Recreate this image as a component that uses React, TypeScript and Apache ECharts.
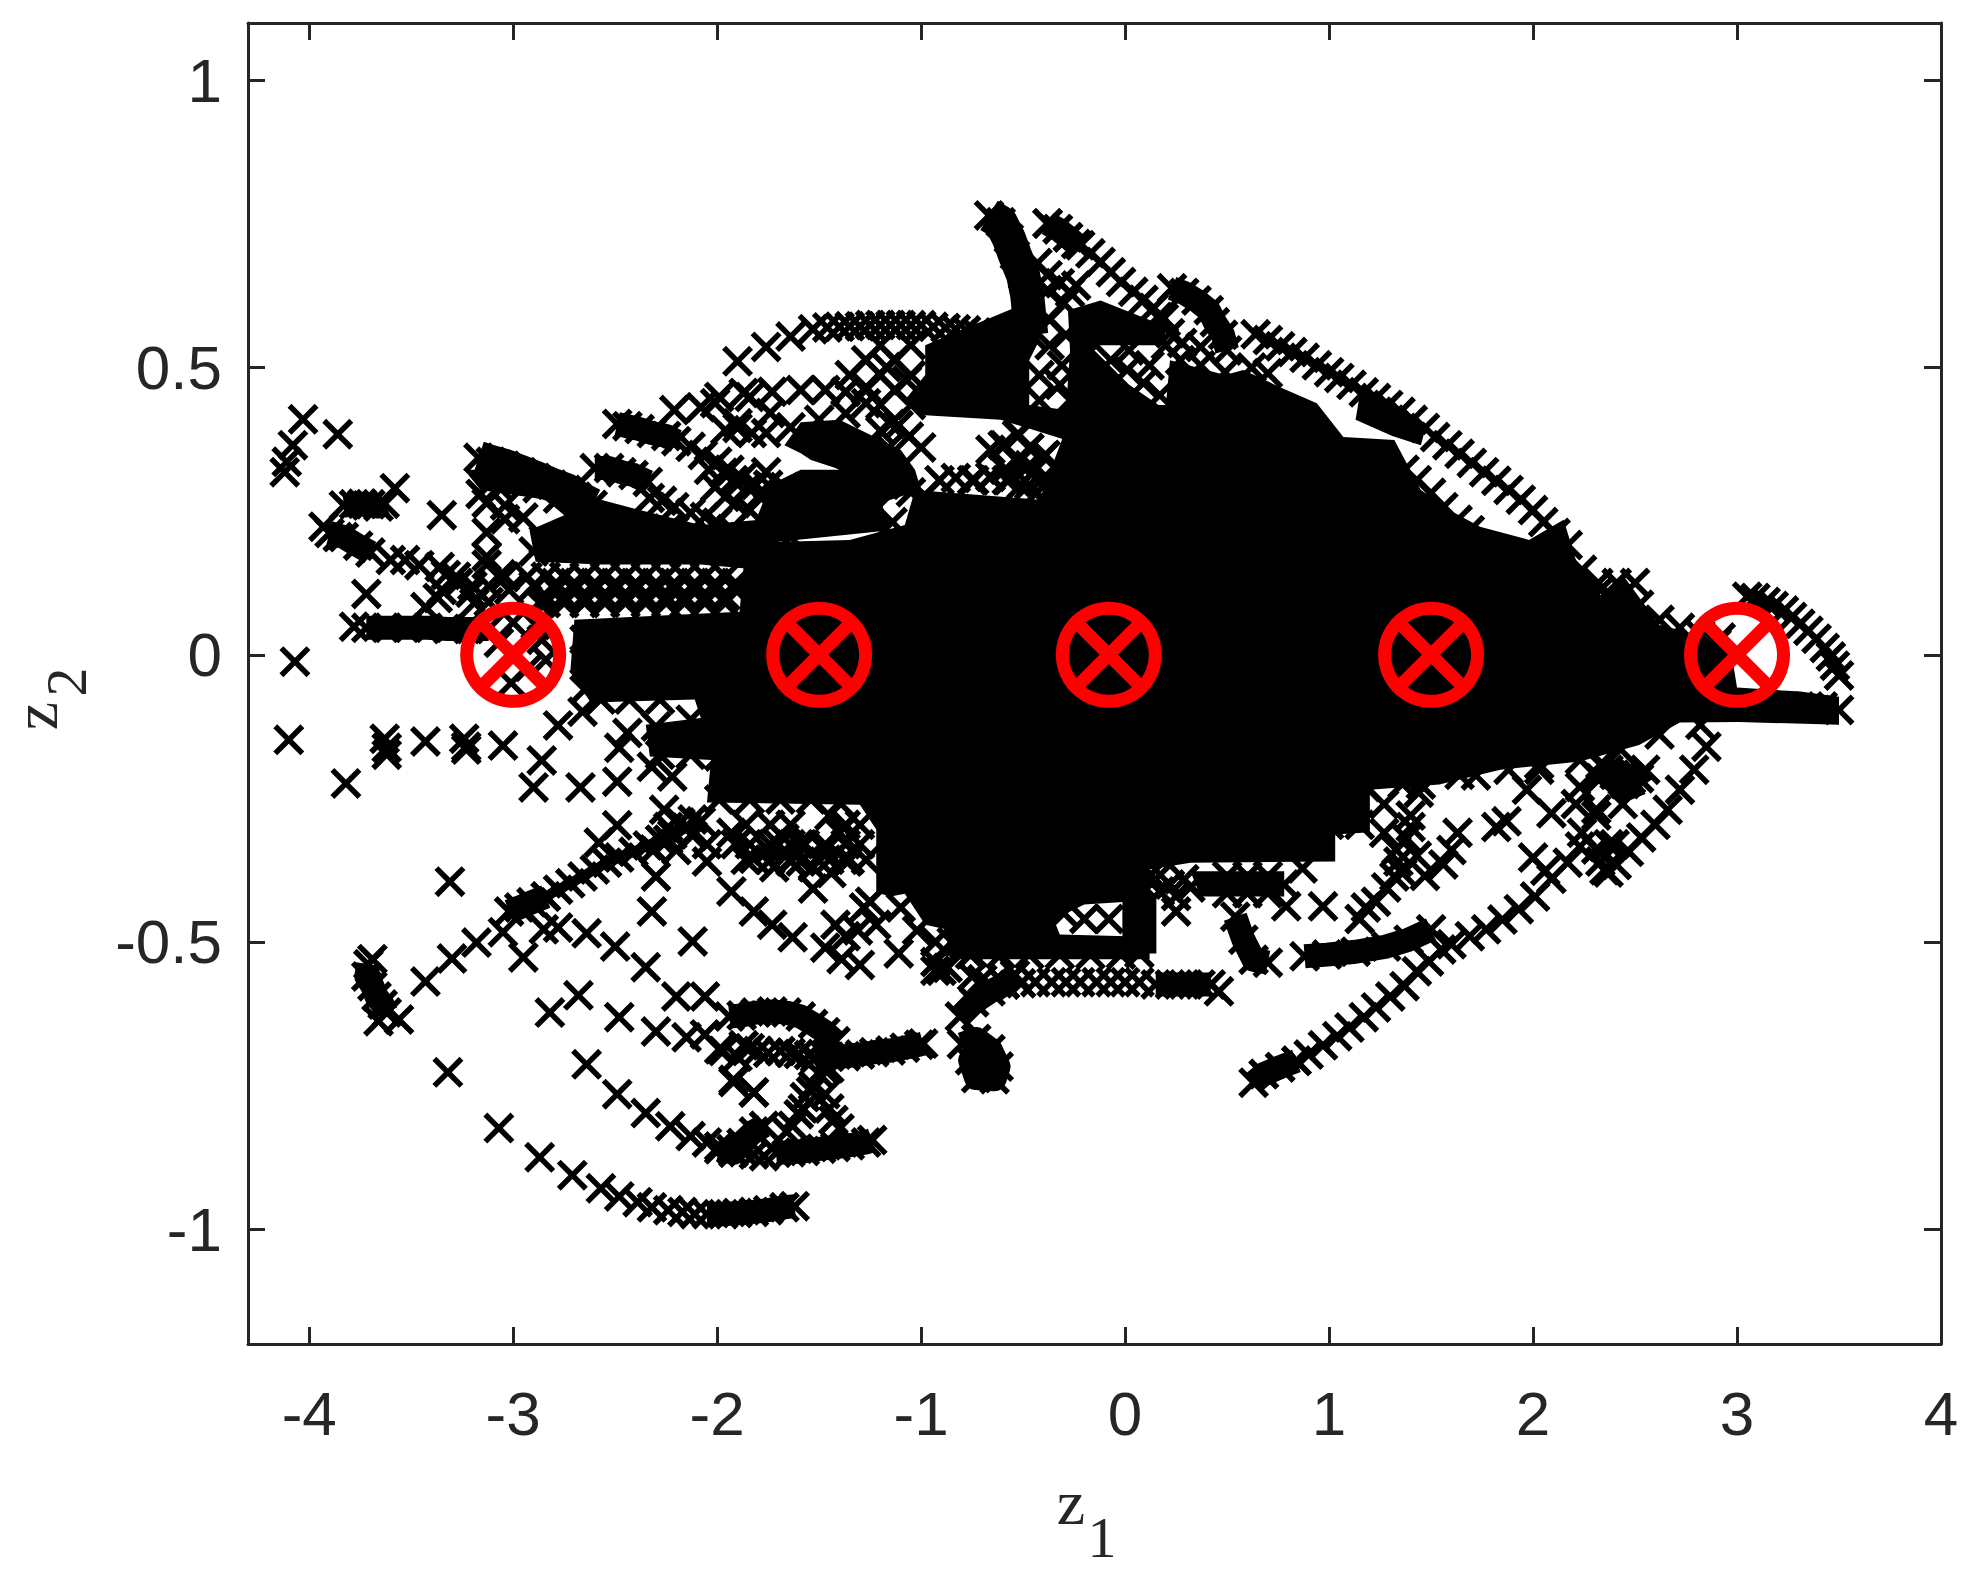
import React, { useEffect, useRef } from "react";
import * as echarts from "echarts";

const xTicks = [-4, -3, -2, -1, 0, 1, 2, 3, 4];
const yTicks = [-1, -0.5, 0, 0.5, 1];
const centers = [[-3, 0], [-1.5, 0], [-0.08, 0], [1.5, 0], [3, 0]];

// Regions where the crosses overlap so much that they read as solid black
const coreMain = [[-2.7,.061],[-1.89,.075],[-1.86,.195],[-1.35,.2],[-1.08,.226],[-1.03,.287],[-.42,.27],[-.31,.374],[-.31,.435],[.2,.435],[.22,.513],[.49,.487],[.58,.496],[.76,.466],[.94,.438],[1.07,.379],[1.32,.374],[1.45,.287],[1.59,.252],[1.74,.223],[1.98,.2],[2.15,.235],[2.21,.165],[2.33,.104],[2.45,.134],[2.62,.052],[2.75,.04],[2.97,.009],[3.0,-.057],[3.31,-.064],[3.5,-.073],[3.5,-.122],[3.01,-.117],[2.72,-.118],[2.52,-.157],[2.23,-.186],[1.84,-.2],[1.54,-.226],[1.2,-.235],[1.2,-.309],[1.03,-.313],[1.03,-.36],[.32,-.362],[.12,-.374],[.12,-.43],[.01,-.43],[-.2,-.435],[-.35,-.461],[-.32,-.487],[.01,-.49],[.12,-.49],[.12,-.53],[-.86,-.53],[-.88,-.478],[-.98,-.47],[-1.08,-.416],[-1.15,-.421],[-1.22,-.414],[-1.22,-.304],[-1.3,-.261],[-2.05,-.257],[-2.03,-.183],[-2.33,-.177],[-2.35,-.122],[-2.08,-.11],[-2.11,-.078],[-2.62,-.083],[-2.72,-.03]];
const coreUpperLeft = [[-3.24,.322],[-2.97,.322],[-2.77,.292],[-2.57,.27],[-2.38,.252],[-2.08,.226],[-1.79,.235],[-1.79,.148],[-2.08,.157],[-2.57,.157],[-2.89,.162],[-2.92,.217],[-2.75,.243],[-2.84,.27],[-3.16,.287]];
const coreFinger = [[-1.67,.365],[-1.59,.405],[-1.4,.409],[-1.25,.383],[-1.1,.357],[-1.03,.322],[-1,.287],[-1.23,.261],[-1.3,.304],[-1.42,.325],[-1.54,.339],[-1.59,.351]];
const coreUnderFinger = [[-1.74,.296],[-1.59,.322],[-1.35,.322],[-1.2,.27],[-1.15,.217],[-1.86,.191]];
const corePeakLeft = [[-.98,.539],[-.86,.557],[-.55,.603],[-.44,.617],[-.42,.548],[-.47,.513],[-.47,.435],[-.29,.426],[-.29,.374],[-.61,.409],[-.98,.417],[-1.08,.443],[-.98,.487]];
const corePeakRight = [[-.28,.6],[-.12,.617],[.12,.583],[.2,.565],[.19,.539],[-.12,.539],[-.15,.53],[.02,.47],[.2,.426],[-.29,.426],[-.27,.53]];
const coreWedge = [[1.13,.409],[1.31,.381],[1.45,.365],[1.47,.391],[1.35,.426],[1.15,.452]];
const coreStrip = [[.32,-.377],[.78,-.377],[.78,-.421],[.37,-.421]];

// Tracks of closely spaced crosses
const bandFarBottom = [[-2.05,-.974],[-1.97,-.974],[-1.9,-.972],[-1.82,-.97],[-1.75,-.967],[-1.67,-.962],[-1.62,-.96]];
const bandLower = [[-1.71,-.867],[-1.64,-.866],[-1.57,-.864],[-1.49,-.86],[-1.42,-.857],[-1.35,-.854],[-1.27,-.849],[-1.24,-.845]];
const bandMid = [[-1.52,-.702],[-1.45,-.7],[-1.37,-.699],[-1.3,-.696],[-1.23,-.692],[-1.15,-.689],[-1.08,-.684],[-1.01,-.679],[-.99,-.677]];
const bandArc = [[-1.94,-.63],[-1.88,-.628],[-1.81,-.623],[-1.73,-.621],[-1.66,-.623],[-1.59,-.63],[-1.53,-.643],[-1.47,-.657],[-1.42,-.673]];
const bandPost = [[-3.72,.047],[-3.62,.047],[-3.52,.047],[-3.42,.047],[-3.32,.045],[-3.22,.045],[-3.12,.045]];
const bandLeftUp = [[-3.83,.26],[-3.78,.262],[-3.74,.263],[-3.7,.262],[-3.66,.258],[-3.63,.263]];
const bandLeftMid = [[-3.9,.212],[-3.83,.205],[-3.76,.19],[-3.7,.178]];
const bandTopLeft = [[-3.17,.343],[-3.11,.336],[-3.04,.329],[-2.96,.318],[-2.89,.308],[-2.81,.296],[-2.74,.287],[-2.69,.275],[-2.61,.261]];
const bandSecond = [[-2.6,.325],[-2.53,.325],[-2.47,.318],[-2.41,.313],[-2.34,.301]];
const bandThird = [[-2.49,.402],[-2.44,.398],[-2.38,.393],[-2.32,.386],[-2.25,.381],[-2.2,.372]];
const bandDiagHead = [[-3.02,-.447],[-2.97,-.44],[-2.91,-.431],[-2.84,-.421]];
const bandDiagBody = [[-2.84,-.421],[-2.78,-.409],[-2.72,-.398],[-2.66,-.386],[-2.6,-.374],[-2.54,-.362],[-2.48,-.353],[-2.41,-.343],[-2.34,-.332],[-2.28,-.322],[-2.22,-.313],[-2.15,-.301],[-2.08,-.29]];
const bandPeakA = [[-.667,.765],[-.61,.753],[-.57,.725],[-.54,.696],[-.5,.661],[-.48,.626],[-.47,.591],[-.46,.557]];
const bandPeakB = [[.23,.638],[.29,.63],[.35,.617],[.41,.6],[.44,.579],[.48,.557],[.5,.53]];
const bandPeakC = [[-.38,.751],[-.33,.741],[-.28,.727],[-.24,.715]];
const bandLowLeft = [[-1.99,-.861],[-1.92,-.867],[-1.88,-.85],[-1.82,-.83],[-1.77,-.82]];
const bandUpRight = [[-.81,-.63],[-.74,-.605],[-.66,-.586],[-.59,-.574],[-.54,-.557]];
const bandBlob = [[-.8,-.678],[-.73,-.669],[-.66,-.687],[-.62,-.717],[-.64,-.739],[-.73,-.737],[-.76,-.706],[-.7,-.697]];
const bandHatchEnd = [[.15,-.574],[.22,-.574],[.29,-.574],[.37,-.574],[.42,-.574]];
const bandFinger = [[.54,-.456],[.58,-.496],[.63,-.531],[.7,-.536]];
const bandRightLower = [[.88,-.525],[.99,-.522],[1.13,-.517],[1.28,-.508],[1.39,-.496],[1.5,-.478]];
const bandLowerArcHead = [[.63,-.745],[.68,-.73],[.76,-.718],[.84,-.707]];
const bandBlobLeft = [[-3.71,-.539],[-3.72,-.56],[-3.69,-.577],[-3.67,-.595],[-3.64,-.609],[-3.62,-.623]];
const bandLumpRight = [[2.33,-.191],[2.4,-.209],[2.48,-.217],[2.55,-.2]];
const bandLumpLower = [[2.37,-.2],[2.45,-.225],[2.52,-.215]];
const bandNotch = [[.07,-.42],[.07,-.52]];

const sparseLeft = [[-4.03,.41],[-3.86,.384],[-4.08,.365],[-4.11,.336],[-4.12,.318],[-3.58,.29],[-3.35,.243],[-3.93,.223],[-3.72,.106],[-3.78,.049],[-4.07,-.012],[-4.1,-.148],[-3.63,-.146],[-3.62,-.162],[-3.62,-.174],[-3.43,-.151],[-3.24,-.146],[-3.23,-.16],[-3.23,-.165],[-3.05,-.158],[-3.82,-.224],[-2.86,-.184],[-2.9,-.231],[-2.67,-.231],[-2.49,-.221],[-2.78,-.123],[-2.66,-.099],[-2.44,-.136],[-2.48,-.162],[-2.32,-.195],[-2.22,-.212],[-2.49,-.297],[-2.58,-.327],[-2.26,-.27],[-2.18,-.292],[-2.12,-.287],[-2.24,-.322],[-2.31,-.339],[-2.05,-.36],[-2.3,-.386],[-2.32,-.447],[-2.12,-.499],[-1.93,-.412],[-1.82,-.447],[-1.73,-.47],[-1.63,-.492],[-1.53,-.407],[-2.64,-.485],[-2.78,-.475],[-2.85,-.478],[-2.95,-.527],[-3.05,-.483],[-3.18,-.501],[-3.3,-.529],[-3.43,-.569],[-2.5,-.508],[-2.35,-.544],[-2.2,-.595],[-2.06,-.595],[-2.68,-.593],[-2.82,-.623],[-2.48,-.631],[-2.3,-.656],[-2.15,-.666],[-2.06,-.661],[-1.99,-.687],[-1.92,-.744],[-1.82,-.762],[-2.64,-.713],[-3.32,-.727],[-3.31,-.395],[-3.56,-.635],[-3.66,-.638],[-3.69,-.53]];
const bottomArc = [[-3.07,-.824],[-2.87,-.875],[-2.71,-.906],[-2.57,-.929],[-2.48,-.943],[-2.39,-.953],[-2.32,-.962],[-2.24,-.967],[-2.17,-.97],[-2.11,-.974]];
const middleArc = [[-2.49,-.765],[-2.35,-.798],[-2.23,-.821],[-2.13,-.838],[-2.05,-.849],[-1.99,-.856],[-1.93,-.861],[-1.87,-.866],[-1.82,-.87],[-1.77,-.873]];
const leftFringe = [[-3.86,.205],[-3.6,.165],[-3.53,.165],[-3.46,.156],[-3.36,.153],[-3.28,.136],[-3.2,.12],[-3.12,.12],[-3.06,.14],[-3.13,.157],[-3.13,.213],[-3.04,.236],[-2.95,.239],[-3.04,.26],[-3.13,.264],[-3.33,.139],[-3.35,.113],[-3.27,.125],[-3.21,.108],[-3.12,.092],[-3.04,.136],[-2.93,.136],[-3.02,.113],[-3.43,.083],[-3.37,.099],[-3.13,.171],[-3.19,.09],[-2.9,.12],[-2.87,.09],[-3.16,.28],[-3.07,.292],[-2.88,.29],[-2.78,.272],[-2.9,.18],[-2.85,.2]];
const hatchRowA = [[-2.84,.136],[-2.75,.136],[-2.65,.136],[-2.55,.136],[-2.45,.136],[-2.35,.136],[-2.25,.136],[-2.16,.136],[-2.06,.136],[-1.96,.136]];
const hatchRowB = [[-2.79,.113],[-2.7,.113],[-2.6,.113],[-2.5,.113],[-2.4,.113],[-2.3,.113],[-2.21,.113],[-2.11,.113],[-2.01,.113],[-1.91,.113]];
const hatchRowC = [[-2.84,.09],[-2.75,.09],[-2.65,.09],[-2.55,.09],[-2.45,.09],[-2.35,.09],[-2.25,.09],[-2.16,.09],[-2.06,.09],[-1.96,.09]];
const hatchRowD = [[-2.79,.125],[-2.7,.125],[-2.6,.125],[-2.5,.125],[-2.4,.125],[-2.3,.125],[-2.21,.125],[-2.11,.125],[-2.01,.125],[-1.91,.125]];
const hatchRowE = [[-2.84,.102],[-2.75,.102],[-2.65,.102],[-2.55,.102],[-2.45,.102],[-2.35,.102],[-2.25,.102],[-2.16,.102],[-2.06,.102],[-1.96,.102]];
const insideFirstCircle = [[-3.07,.021],[-3,.056],[-2.92,-.021],[-3.01,-.049],[-2.86,.026],[-2.84,-.009],[-2.89,.052]];
const secondComb = [[-2.33,.273],[-2.27,.268],[-2.21,.257],[-2.13,.247],[-2.06,.24],[-2,.23],[-1.93,.219],[-1.87,.205],[-2.38,.2],[-2.32,.19],[-2.24,.22]];
const thirdComb = [[-2.13,.362],[-2.07,.348],[-2,.336],[-1.94,.322],[-1.88,.308],[-1.81,.296],[-1.75,.296],[-1.79,.278]];
const upperScatter = [[-2.21,.426],[-2.01,.438],[-1.84,.449],[-1.96,.391],[-1.83,.386],[-2.08,.431],[-1.74,.421],[-1.9,.403],[-1.9,.511],[-1.76,.536],[-1.64,.554],[-1.53,.567],[-1.46,.57],[-1.4,.571],[-1.35,.572],[-1.3,.572],[-1.25,.574],[-1.2,.574],[-1.15,.574],[-1.1,.574],[-1.05,.574],[-1,.574],[-.94,.571],[-.88,.569],[-.83,.567],[-.78,.565],[-.73,.561],[-.69,.557]];
const rowUnderTop = [[-1.87,.456],[-1.73,.458],[-1.59,.461],[-1.47,.461],[-1.37,.458],[-1.27,.466],[-1.17,.501],[-1.07,.478],[-1.99,.449],[-1.9,.395],[-1.76,.386],[-1.64,.396],[-1.5,.409],[-1.37,.42],[-1.27,.438],[-1.15,.402],[-1.06,.38],[-1.0,.361],[-1.11,.4],[-1.2,.39]];
const midHatch = [[-2.04,.322],[-1.97,.317],[-1.92,.304],[-1.85,.292],[-1.79,.275],[-2.01,.292],[-1.96,.275],[-1.91,.264],[-1.84,.252],[-1.76,.318],[-1.67,.292],[-1.6,.28],[-1.52,.27],[-1.28,.28],[-1.18,.296],[-1.05,.283],[-.98,.277],[-1.31,.25],[-1.23,.25],[-1.14,.231],[-1.76,.223],[-1.64,.205],[-.74,.304],[-.66,.31],[-.57,.304],[-.6,.365],[-.53,.383],[-.47,.36],[-.53,.337],[-.47,.33],[-.42,.301],[-.51,.296],[-.4,.345],[-.44,.28]];
const gapFill = [[-1.2,.539],[-1.13,.513],[-1.2,.487],[-1.05,.539],[-1.05,.487],[-1.13,.461],[-1.2,.435],[-1.05,.435],[-1.27,.513],[-1.27,.461],[-1.35,.487],[-.59,.365],[-.52,.383],[-.47,.36],[-.52,.336],[-.59,.322],[-.44,.322],[-.39,.348],[-.37,.304],[-.47,.296],[-.66,.357],[-.37,.583],[-.29,.557],[-.37,.539],[-.42,.487],[-.32,.47],[-.31,.504],[-.42,.443],[-.91,.304],[-.83,.308],[-.75,.304],[-.66,.31],[-.58,.304],[-1.16,.36]];
const coreFringe = [[-1.99,-.252],[-1.84,-.252],[-1.69,-.252],[-1.54,-.252],[-1.4,-.257],[-2.28,-.174],[-2.13,-.174],[-1.99,-.177],[-1.86,-.177],[-2.3,-.125],[-2.13,-.113],[-2.57,-.078],[-2.43,-.078],[-2.28,-.078],[-2.65,-.061],[-2.65,.026],[-2.65,-.009],[-.76,-.522],[-.61,-.522],[-.47,-.522],[-.32,-.522],[-.17,-.522],[-.02,-.522],[-.27,.443],[-.15,.435],[.27,.513],[.37,.504],[.49,.492],[1.15,-.296],[1.0,-.296],[1.45,-.226],[1.64,-.209],[2.03,-.191],[2.23,-.183],[2.43,-.165],[2.62,-.139],[2.82,-.122],[2.33,.113],[2.52,.087],[2.62,.061],[2.72,.047],[2.82,.035],[3.5,-.096],[3.42,-.09],[3.35,-.09],[3.2,-.09],[.15,-.391],[.22,-.4],[.29,-.391],[.17,-.412],[2.9,.02],[.12,-.385],[.08,-.4],[.25,-.42],[.32,-.405],[.78,-.4],[.7,-.385],[.7,-.415],[.6,-.385],[.6,-.415],[.5,-.385],[.5,-.415]];
const underCoreHatch = [[-1.86,-.296],[-1.74,-.296],[-1.64,-.296],[-1.37,-.296],[-1.3,-.296],[-1.91,-.33],[-1.84,-.33],[-1.74,-.33],[-1.64,-.33],[-1.57,-.33],[-1.47,-.33],[-1.37,-.33],[-1.3,-.33],[-1.86,-.357],[-1.74,-.357],[-1.64,-.357],[-1.45,-.357],[-1.35,-.357],[-1.27,-.357]];
const secondTopArc = [[-.38,.751],[-.33,.741],[-.28,.727],[-.22,.713],[-.17,.699],[-.12,.684],[-.07,.666],[-.02,.649],[.04,.632],[.09,.618],[.14,.604],[.19,.586],[-.43,.682],[-.38,.661],[-.32,.647],[-.27,.631],[-.38,.635],[-.3,.612],[-.24,.643],[.16,.588],[.22,.56],[.28,.543],[.37,.536],[.2,.539],[-.07,.513],[.01,.496],[.09,.473],[.17,.452],[.02,.53],[.12,.504]];
const thirdTopArc = [[.64,.558],[.7,.548],[.76,.537],[.82,.527],[.88,.517],[.94,.504],[1,.492],[1.05,.482],[1.11,.47],[1.17,.457],[1.23,.447],[1.29,.435],[1.35,.423],[1.41,.409],[1.47,.395],[1.52,.379],[1.58,.365],[1.64,.35],[1.7,.334],[1.76,.318],[1.82,.303],[1.88,.287],[1.94,.27],[2,.252],[2.05,.231],[2.11,.212],[2.17,.191],[1.37,.322],[1.43,.304],[1.5,.282],[1.56,.257],[1.63,.235],[1.69,.217],[.62,.5],[.7,.49]];
const rightTipArc = [[3.05,.101],[3.09,.099],[3.14,.092],[3.18,.085],[3.23,.077],[3.27,.066],[3.31,.054],[3.35,.042],[3.39,.028],[3.43,.012],[3.46,-.003],[3.48,-.019],[3.5,-.036]];
const rightNearTip = [[2.24,.148],[2.32,.125],[2.41,.125],[2.5,.125],[2.12,.16],[2.05,.17],[2.2,.113],[2.01,.085],[1.95,.12],[2.86,.0],[2.82,-.03],[2.92,.03]];
const lowerArc = [[.68,-.73],[.76,-.718],[.84,-.707],[.9,-.696],[.97,-.68],[1.04,-.664],[1.1,-.649],[1.17,-.631],[1.23,-.614],[1.3,-.595],[1.37,-.577],[1.43,-.551],[1.49,-.534],[1.55,-.513]];
const upperArc = [[1.6,-.504],[1.69,-.49],[1.77,-.478],[1.85,-.461],[1.93,-.443],[2.01,-.421],[2.09,-.39],[2.17,-.362],[2.23,-.334],[2.31,-.28],[2.44,-.26]];
const outerArc = [[2.85,-.16],[2.79,-.2],[2.72,-.235],[2.66,-.27],[2.6,-.296],[2.53,-.318],[2.47,-.343],[2.41,-.366],[2.35,-.375]];
const rightArcTail = [[2.33,-.36],[2.37,-.33],[2.21,-.26],[2.4,-.33]];
const lowerRightX = [[.25,-.447],[.79,-.438],[.97,-.438],[.46,-.586],[.87,-.372],[.69,-.29],[1.15,-.46],[1.18,-.44],[1.23,-.43],[1.28,-.405],[1.32,-.386],[1.34,-.36],[1.36,-.38],[1.38,-.32],[1.27,-.31],[1.4,-.28],[1.4,-.3],[1.33,-.34],[1.87,-.29],[1.82,-.3],[1.97,-.235],[2.09,-.276],[2.24,-.31],[2.31,-.269],[2.31,-.339],[2.37,-.379],[2,-.353],[2.06,-.376],[1.63,-.31],[1.56,-.365],[1.6,-.34],[1.47,-.385],[1.43,-.35],[1.27,-.26],[1.18,-.23],[1.36,-.225],[1.44,-.24],[1.72,-.21],[1.88,-.2],[2.03,-.2],[2.23,-.23],[2.33,-.215],[2.31,-.21]];
const lowerMidX = [[-2.24,-.3],[-2.12,-.315],[-2.2,-.34],[-2.05,-.33],[-1.93,-.31],[-1.82,-.355],[-1.75,-.34],[-1.67,-.32],[-1.72,-.37],[-1.64,-.36],[-1.53,-.37],[-1.59,-.36],[-1.44,-.38],[-1.47,-.34],[-1.4,-.31],[-1.45,-.28],[-1.38,-.3],[-1.38,-.355],[-1.7,-.33],[-1.6,-.33],[-1.36,-.36],[-1.25,-.43],[-1.42,-.47],[-1.31,-.48],[-1.28,-.44],[-1.22,-.47],[-1.37,-.49],[-1.47,-.51],[-1.39,-.53],[-1.3,-.54],[-1.11,-.52],[-.93,-.535],[-.93,-.55],[-.87,-.545],[-.75,-.56],[-.7,-.565]];
const lowerCluster = [[-1.97,-.69],[-1.87,-.68],[-1.9,-.7],[-1.84,-.685],[-1.8,-.69],[-1.75,-.693],[-1.69,-.69],[-1.64,-.693],[-1.6,-.695],[-1.55,-.697],[-1.92,-.74],[-1.82,-.762],[-1.47,-.765],[-1.45,-.79],[-1.43,-.81],[-1.4,-.825],[-1.6,-.8],[-1.57,-.77],[-1.53,-.75],[-1.5,-.73],[-1.45,-.72],[-1.66,-.83],[-1.63,-.82],[-1.58,-.79],[-1.54,-.76],[-1.48,-.72]];
const lowerHatch = [[-.66,-.575],[-.59,-.574],[-.51,-.572],[-.44,-.57],[-.36,-.57],[-.29,-.57],[-.22,-.57],[-.14,-.57],[-.07,-.57],[.0,-.57],[.07,-.57]];
const hatchUnderCore = [[-.9,-.55],[-.93,-.5],[-.85,-.5],[-.79,-.485],[-.71,-.47],[-.66,-.51],[-.4,-.44],[-.3,-.45],[-.2,-.46],[-.08,-.46],[-.6,-.49],[-.5,-.47],[-1.1,-.44],[-1.02,-.48],[-.75,-.52]];

const xSymbol = "path://M3.9 0L15.5 11.6L27.1 0L31 3.9L19.4 15.5L31 27.1L27.1 31L15.5 19.4L3.9 31L0 27.1L11.6 15.5L0 3.9Z";
const redX = "path://M9.2 0L37 27.8L64.8 0L74 9.2L46.2 37L74 64.8L64.8 74L37 46.2L9.2 74L0 64.8L27.8 37L0 9.2Z";

const solidRegions = [coreMain, coreUpperLeft, coreFinger, coreUnderFinger, corePeakLeft, corePeakRight, coreWedge, coreStrip];
const wideBands = [bandPeakA, bandTopLeft, bandNotch, bandLumpLower];
const thickBands = [bandFarBottom, bandLower, bandMid, bandArc, bandPost, bandLeftUp, bandLeftMid, bandSecond, bandThird, bandDiagHead, bandPeakB, bandPeakC, bandLowLeft, bandUpRight, bandBlob, bandHatchEnd, bandFinger, bandRightLower, bandLowerArcHead, bandBlobLeft, bandLumpRight];
const thinBands = [bandDiagBody];
const looseCrosses = [sparseLeft, bottomArc, middleArc, leftFringe, hatchRowA, hatchRowB, hatchRowC, hatchRowD, hatchRowE, insideFirstCircle, secondComb, thirdComb, upperScatter, rowUnderTop, midHatch, gapFill, coreFringe, underCoreHatch, secondTopArc, thirdTopArc, rightTipArc, rightNearTip, lowerArc, upperArc, outerArc, rightArcTail, lowerRightX, lowerMidX, lowerCluster, lowerHatch, hatchUnderCore];

const ink = "#262626";
const serif = "Liberation Serif";

export default function App() {
  const ref = useRef<HTMLDivElement>(null);
  useEffect(() => {
    const chart = echarts.init(ref.current!, undefined, { renderer: "svg" });
    const labelStyle = { fontFamily: "Liberation Sans", fontSize: 62, color: ink };
    const line = { lineStyle: { color: ink, width: 3 } };
    const tick = (values: number[]) => ({ show: true, inside: true, length: 17, customValues: values, lineStyle: { color: ink, width: 3 } });
    const title = (text: string, x: number, y: number, fontSize: number, rotation = 0) => ({
      type: "text",
      x,
      y,
      rotation,
      style: { text, fontFamily: serif, fontSize, fill: ink, textAlign: "center", textVerticalAlign: "middle", verticalAlign: "middle" },
    });
    const series: any[] = [];
    solidRegions.forEach((region) =>
      series.push({
        type: "custom",
        data: region,
        encode: { x: 0, y: 1 },
        z: 1,
        silent: true,
        renderItem: (params: any, api: any) => {
          if (params.dataIndex !== 0) return null;
          return {
            type: "polygon",
            shape: { points: region.map((p) => api.coord(p)) },
            style: { fill: "#000" },
          };
        },
      }),
    );
    const addBand = (data: number[][], width: number) =>
      series.push({
        type: "line",
        data,
        z: 2,
        silent: true,
        symbol: xSymbol,
        symbolSize: 31,
        showAllSymbol: true,
        itemStyle: { color: "#000", opacity: 1 },
        lineStyle: { color: "#000", width, cap: "butt", join: "round" },
      });
    wideBands.forEach((b) => addBand(b, 34));
    thickBands.forEach((b) => addBand(b, 24));
    thinBands.forEach((b) => addBand(b, 10));
    looseCrosses.forEach((data) =>
      series.push({ type: "scatter", data, z: 3, silent: true, symbol: xSymbol, symbolSize: 31, itemStyle: { color: "#000", opacity: 1 } }),
    );
    series.push({
      type: "scatter",
      data: centers,
      z: 10,
      silent: true,
      symbol: "circle",
      symbolSize: 93,
      itemStyle: { color: "transparent", borderColor: "#ff0000", borderWidth: 13, opacity: 1 },
    });
    series.push({
      type: "scatter",
      data: centers,
      z: 11,
      silent: true,
      symbol: redX,
      symbolSize: 74,
      itemStyle: { color: "#ff0000", opacity: 1 },
    });
    chart.setOption({
      animation: false,
      backgroundColor: "#fff",
      grid: { left: 248, top: 23, width: 1693, height: 1321, containLabel: false, outerBoundsMode: "none" },
      graphic: [
        title("z", 1071, 1502, 64),
        title("1", 1102, 1537, 58),
        title("z", 35, 716, 64, Math.PI / 2),
        title("2", 66, 682, 58, Math.PI / 2),
      ],
      xAxis: [
        {
          type: "value", min: -4.3, max: 4, position: "bottom",
          axisLine: { show: true, onZero: false, ...line }, axisTick: tick(xTicks),
          axisLabel: { ...labelStyle, margin: 38, customValues: xTicks, showMinLabel: true, showMaxLabel: true, formatter: (v: number) => String(v) },
          splitLine: { show: false },
        },
        {
          type: "value", min: -4.3, max: 4, position: "top",
          axisLine: { show: true, onZero: false, ...line }, axisTick: tick(xTicks),
          axisLabel: { show: false }, splitLine: { show: false },
        },
      ],
      yAxis: [
        {
          type: "value", min: -1.2, max: 1.1, position: "left",
          axisLine: { show: true, onZero: false, ...line }, axisTick: tick(yTicks),
          axisLabel: { ...labelStyle, margin: 26, customValues: yTicks, formatter: (v: number) => String(v) },
          splitLine: { show: false },
        },
        {
          type: "value", min: -1.2, max: 1.1, position: "right",
          axisLine: { show: true, onZero: false, ...line }, axisTick: tick(yTicks),
          axisLabel: { show: false }, splitLine: { show: false },
        },
      ],
      series,
    });
    return () => chart.dispose();
  }, []);
  return <div ref={ref} style={{ position: "absolute", left: 0, top: 0, width: 1971, height: 1577 }} />;
}
